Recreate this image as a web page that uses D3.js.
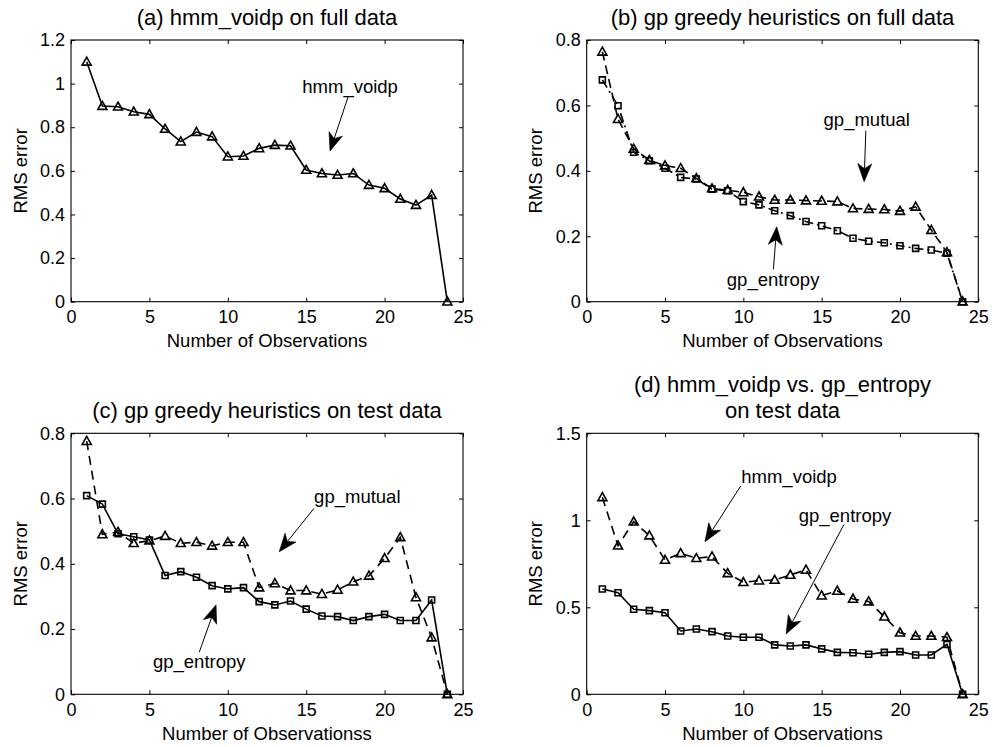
<!DOCTYPE html>
<html>
<head>
<meta charset="utf-8">
<script src="https://cdn.jsdelivr.net/npm/d3@7"></script>
<style>
  html, body { margin: 0; padding: 0; background: #fff; }
  svg { display: block; }
</style>
</head>
<body>
<svg id="chart" width="993" height="747"></svg>
<script>
// ---------------- DATA ----------------
const observations = [1,2,3,4,5,6,7,8,9,10,11,12,13,14,15,16,17,18,19,20,21,22,23,24];
const xTicks = [0,5,10,15,20,25];
const yTicksA = [0,0.2,0.4,0.6,0.8,1,1.2];
const yTicksB = [0,0.2,0.4,0.6,0.8];
const yTicksC = [0,0.2,0.4,0.6,0.8];
const yTicksD = [0,0.5,1,1.5];

// (a) hmm_voidp on full data
const hmmVoidpFull = [1.10,0.897,0.894,0.871,0.859,0.792,0.734,0.778,0.757,0.665,0.668,0.703,
                      0.718,0.715,0.604,0.588,0.581,0.588,0.535,0.520,0.471,0.443,0.489,0.0];
// (b) gp greedy heuristics on full data
const gpMutualFull  = [0.764,0.558,0.467,0.433,0.416,0.408,0.377,0.346,0.341,0.334,0.321,0.311,
                       0.311,0.309,0.308,0.306,0.285,0.283,0.282,0.277,0.290,0.219,0.151,0.0];
const gpEntropyFull = [0.678,0.599,0.457,0.431,0.408,0.380,0.375,0.344,0.339,0.306,0.296,0.278,
                       0.263,0.245,0.232,0.217,0.194,0.185,0.180,0.171,0.163,0.158,0.148,0.0];
// (c) gp greedy heuristics on test data
const gpMutualTest  = [0.776,0.490,0.497,0.463,0.471,0.485,0.463,0.466,0.455,0.466,0.466,0.327,
                       0.340,0.318,0.318,0.307,0.320,0.345,0.363,0.417,0.481,0.297,0.174,0.0];
const gpEntropyTest = [0.609,0.583,0.492,0.483,0.473,0.364,0.376,0.359,0.333,0.323,0.327,0.284,
                       0.274,0.286,0.261,0.240,0.238,0.226,0.238,0.245,0.226,0.226,0.289,0.0];
// (d) hmm_voidp vs. gp_entropy on test data
const hmmVoidpTest  = [1.132,0.854,0.992,0.912,0.772,0.810,0.782,0.791,0.695,0.644,0.653,0.657,
                       0.686,0.715,0.567,0.594,0.548,0.533,0.446,0.354,0.335,0.335,0.328,0.0];
const gpEntropyTestD = [0.605,0.584,0.489,0.481,0.469,0.364,0.375,0.360,0.335,0.328,0.328,0.284,
                        0.278,0.284,0.261,0.241,0.239,0.230,0.241,0.245,0.226,0.226,0.287,0.0];

// ---------------- LAYOUT ----------------
const FONT = "'Liberation Sans', Arial, Helvetica, sans-serif";
const svg = d3.select("#chart");

const panels = [
  { left: 71, right: 463, top: 40, bottom: 301.7, ymax: 1.2, yTicks: yTicksA,
    title: ["(a) hmm_voidp on full data"], xlabel: "Number of Observations",
    series: [ { values: hmmVoidpFull, marker: "tri", dash: null } ],
    notes: [ { text: "hmm_voidp", tx: 17.8, ty: 0.957, from: [17.67, 0.939], to: [16.52, 0.691] } ] },
  { left: 586.7, right: 978.3, top: 40, bottom: 301.7, ymax: 0.8, yTicks: yTicksB,
    title: ["(b) gp greedy heuristics on full data"], xlabel: "Number of Observations",
    series: [ { values: gpMutualFull, marker: "tri", dash: "9,5" },
              { values: gpEntropyFull, marker: "sq", dash: "9,4,2,4" } ],
    notes: [ { text: "gp_mutual", tx: 17.88, ty: 0.537, from: [17.82, 0.523], to: [17.71, 0.367] },
             { text: "gp_entropy", tx: 11.9, ty: 0.048, from: [11.92, 0.099], to: [12.13, 0.229] } ] },
  { left: 71, right: 463, top: 433.3, bottom: 694.3, ymax: 0.8, yTicks: yTicksC,
    title: ["(c) gp greedy heuristics on test data"], xlabel: "Number of Observationss",
    series: [ { values: gpMutualTest, marker: "tri", dash: "9,6" },
              { values: gpEntropyTest, marker: "sq", dash: null } ],
    notes: [ { text: "gp_mutual", tx: 18.26, ty: 0.585, from: [15.5, 0.570], to: [13.28, 0.437] },
             { text: "gp_entropy", tx: 8.18, ty: 0.080, from: [8.18, 0.129], to: [9.25, 0.274] } ] },
  { left: 586.7, right: 978.3, top: 433.3, bottom: 694.3, ymax: 1.5, yTicks: yTicksD,
    title: ["(d) hmm_voidp vs. gp_entropy", "on test data"], xlabel: "Number of Observations",
    series: [ { values: hmmVoidpTest, marker: "tri", dash: "9,6" },
              { values: gpEntropyTestD, marker: "sq", dash: null } ],
    notes: [ { text: "hmm_voidp", tx: 12.92, ty: 1.216, from: [9.83, 1.197], to: [7.55, 0.877] },
             { text: "gp_entropy", tx: 16.49, ty: 0.992, from: [16.43, 0.977], to: [12.73, 0.347] } ] }
];

const fmt = v => String(+v.toFixed(2));

function styleAxis(sel) {
  sel.select(".domain").remove();
  sel.selectAll(".tick line").attr("stroke", "#000").attr("stroke-width", 1);
  sel.selectAll("text").attr("font-family", FONT).attr("font-size", 18).attr("fill", "#000");
}

function drawPanel(p) {
  const g = svg.append("g");
  const x = d3.scaleLinear().domain([0, 25]).range([p.left, p.right]);
  const y = d3.scaleLinear().domain([0, p.ymax]).range([p.bottom, p.top]);
  const T = 4;

  // axes with inward ticks on all four sides
  g.append("g").attr("transform", `translate(0,${p.bottom})`)
    .call(d3.axisBottom(x).tickValues(xTicks).tickFormat(fmt).tickSizeInner(-T).tickSizeOuter(0).tickPadding(9))
    .call(styleAxis);
  g.append("g").attr("transform", `translate(0,${p.top})`)
    .call(d3.axisTop(x).tickValues(xTicks).tickFormat("").tickSizeInner(-T).tickSizeOuter(0))
    .call(styleAxis);
  g.append("g").attr("transform", `translate(${p.left},0)`)
    .call(d3.axisLeft(y).tickValues(p.yTicks).tickFormat(fmt).tickSizeInner(-T).tickSizeOuter(0).tickPadding(6))
    .call(styleAxis);
  g.append("g").attr("transform", `translate(${p.right},0)`)
    .call(d3.axisRight(y).tickValues(p.yTicks).tickFormat("").tickSizeInner(-T).tickSizeOuter(0))
    .call(styleAxis);

  g.append("rect")
    .attr("x", p.left).attr("y", p.top)
    .attr("width", p.right - p.left).attr("height", p.bottom - p.top)
    .attr("fill", "none").attr("stroke", "#000").attr("stroke-width", 1.1);

  // series
  const line = d3.line().x((d, i) => x(observations[i])).y(d => y(d));
  p.series.forEach(s => {
    g.append("path").datum(s.values)
      .attr("d", line)
      .attr("fill", "none").attr("stroke", "#000").attr("stroke-width", 1.6)
      .attr("stroke-dasharray", s.dash);
    const m = g.append("g").selectAll("path").data(s.values).join("path")
      .attr("transform", (d, i) => `translate(${x(observations[i])},${y(d)})`)
      .attr("fill", "none").attr("stroke", "#000").attr("stroke-width", 1.6);
    if (s.marker === "tri") m.attr("d", "M0,-4.7L4.5,3.3L-4.5,3.3Z");
    else m.attr("d", "M-3,-3H3V3H-3Z");
  });

  // annotations (text + arrow), positioned in data units
  p.notes.forEach(n => {
    g.append("text")
      .attr("x", x(n.tx)).attr("y", y(n.ty))
      .attr("text-anchor", "middle")
      .attr("font-family", FONT).attr("font-size", 18.5).attr("fill", "#000")
      .text(n.text);
    const x0 = x(n.from[0]), y0 = y(n.from[1]);
    const x1 = x(n.to[0]), y1 = y(n.to[1]);
    const ang = Math.atan2(y1 - y0, x1 - x0) * 180 / Math.PI;
    const L = 18, W = 7, N = 13;
    const len = Math.hypot(x1 - x0, y1 - y0);
    const ux = (x1 - x0) / len, uy = (y1 - y0) / len;
    g.append("line")
      .attr("x1", x0).attr("y1", y0)
      .attr("x2", x1 - ux * N).attr("y2", y1 - uy * N)
      .attr("stroke", "#000").attr("stroke-width", 1);
    g.append("path")
      .attr("d", `M0,0L${-L},${W}L${-N},0L${-L},${-W}Z`)
      .attr("transform", `translate(${x1},${y1}) rotate(${ang})`)
      .attr("fill", "#000").attr("stroke", "#000").attr("stroke-width", 0.6);
  });

  // titles and labels
  const cx = (p.left + p.right) / 2;
  const nT = p.title.length;
  p.title.forEach((t, i) => {
    g.append("text")
      .attr("x", cx).attr("y", p.top - 15.3 - (nT - 1 - i) * 25.6)
      .attr("text-anchor", "middle")
      .attr("font-family", FONT).attr("font-size", 22).attr("fill", "#000")
      .text(t);
  });
  g.append("text")
    .attr("x", cx).attr("y", p.bottom + 45.3)
    .attr("text-anchor", "middle")
    .attr("font-family", FONT).attr("font-size", 18.5).attr("fill", "#000")
    .text(p.xlabel);
  const cy = (p.top + p.bottom) / 2;
  g.append("text")
    .attr("transform", `translate(${p.left - 44.5},${cy}) rotate(-90)`)
    .attr("text-anchor", "middle")
    .attr("font-family", FONT).attr("font-size", 18.5).attr("fill", "#000")
    .text("RMS error");
}

panels.forEach(drawPanel);
</script>
</body>
</html>
